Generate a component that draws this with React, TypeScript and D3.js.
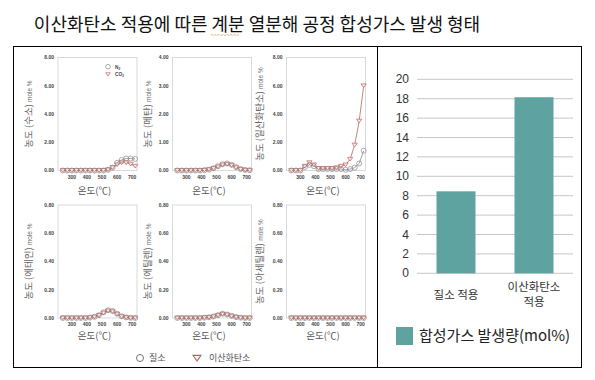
import React from 'react';
import * as d3 from 'd3';

const titleText = '이산화탄소 적용에 따른 계분 열분해 공정 합성가스 발생 형태';
const temps = [240, 270, 300, 330, 360, 390, 420, 450, 480, 510, 540, 570, 600, 630, 660, 690, 720];
const xTicks = [300, 400, 500, 600, 700];

const gasNames = ['수소', '메탄', '일산화탄소', '에테인', '에틸렌', '아세틸렌'];
const gasMax = [8, 4, 8, 0.8, 0.8, 0.8];

const h2N2 = [0, 0, 0, 0, 0, 0, 0, 0, 0, 0, 0.05, 0.2, 0.55, 0.75, 0.85, 0.85, 0.82];
const h2CO2 = [0, 0, 0, 0, 0, 0, 0, 0, 0, 0, 0.05, 0.2, 0.4, 0.55, 0.55, 0.45, 0.3];
const ch4N2 = [0, 0, 0, 0, 0, 0, 0.01, 0.03, 0.08, 0.15, 0.22, 0.25, 0.2, 0.12, 0.05, 0.02, 0.01];
const ch4CO2 = [0, 0, 0, 0, 0, 0, 0.01, 0.03, 0.07, 0.13, 0.2, 0.22, 0.18, 0.1, 0.04, 0.01, 0];
const coN2 = [0, 0, 0, 0.25, 0.4, 0.3, 0.1, 0.1, 0.1, 0.1, 0.1, 0.1, 0.05, 0.1, 0.2, 0.5, 1.4];
const coCO2 = [0, 0, 0, 0.3, 0.55, 0.4, 0.15, 0.15, 0.15, 0.15, 0.2, 0.3, 0.4, 0.8, 1.8, 3.5, 6.0];
const c2h6N2 = [0, 0, 0, 0, 0, 0, 0.003, 0.008, 0.02, 0.04, 0.055, 0.05, 0.03, 0.012, 0.004, 0.001, 0];
const c2h6CO2 = [0, 0, 0, 0, 0, 0, 0.003, 0.007, 0.018, 0.035, 0.05, 0.045, 0.027, 0.01, 0.003, 0, 0];
const c2h4N2 = [0, 0, 0, 0, 0, 0, 0.002, 0.005, 0.01, 0.02, 0.03, 0.025, 0.015, 0.006, 0.002, 0, 0];
const c2h4CO2 = [0, 0, 0, 0, 0, 0, 0.002, 0.004, 0.009, 0.018, 0.027, 0.022, 0.013, 0.005, 0.001, 0, 0];
const c2h2N2 = [0, 0, 0, 0, 0, 0, 0, 0, 0, 0, 0, 0, 0, 0, 0, 0, 0];
const c2h2CO2 = [0, 0, 0, 0, 0, 0, 0, 0, 0, 0, 0, 0, 0, 0, 0, 0, 0];

const n2Series = [h2N2, ch4N2, coN2, c2h6N2, c2h4N2, c2h2N2];
const co2Series = [h2CO2, ch4CO2, coCO2, c2h6CO2, c2h4CO2, c2h2CO2];

const legendN2 = '질소';
const legendCO2 = '이산화탄소';

const barCategories = ['질소 적용', '이산화탄소 적용'];
const barValues = [8.45, 18.15];
const barTicks = [0, 2, 4, 6, 8, 10, 12, 14, 16, 18, 20];
const barLegend = '합성가스 발생량(mol%)';

const KR = '"Noto Sans CJK KR", "Noto Sans", sans-serif';
const NUM = '"Liberation Sans", Arial, sans-serif';
const GREY = '#8a8a8a';
const RED = '#c0605c';
const TEAL = '#5ea39f';

const colLeft = [58, 172.5, 286.5];
const colYLabel = [31.5, 151, 263];
const rowTop = [57.5, 205];
const PW = 79;
const PH = 113;

function tri(cx: number, cy: number, s: number) {
  const h = s * 0.9;
  return `M${cx - s},${cy - h * 0.6}L${cx + s},${cy - h * 0.6}L${cx},${cy + h}Z`;
}

function Panel({ idx }: { idx: number }) {
  const col = idx % 3;
  const row = Math.floor(idx / 3);
  const x0 = colLeft[col];
  const y0 = rowTop[row];
  const x = d3.scaleLinear().domain([208, 732]).range([x0, x0 + PW]);
  const y = d3.scaleLinear().domain([0, gasMax[idx]]).range([y0 + PH, y0]);
  const yt = d3.range(5).map((i) => (gasMax[idx] / 4) * i);
  const line = d3
    .line<number>()
    .x((_, i) => x(temps[i]))
    .y((d) => y(d));
  const n2 = n2Series[idx];
  const co2 = co2Series[idx];
  const yLabelX = colYLabel[col];
  const cy = y0 + PH / 2;
  return (
    <g>
      <rect x={x0} y={y0} width={PW} height={PH} fill="#fff" stroke="#d0d0d0" strokeWidth={0.8} />
      {yt.map((v) => (
        <text key={v} x={x0 - 4} y={y(v) + 1.8} fontSize={5} fontWeight="bold" fill="#444" textAnchor="end" fontFamily={NUM}>
          {v.toFixed(2)}
        </text>
      ))}
      {xTicks.map((v) => (
        <text key={v} x={x(v)} y={y0 + PH + 8} fontSize={5} fontWeight="bold" fill="#444" textAnchor="middle" fontFamily={NUM}>
          {v}
        </text>
      ))}
      <text x={x0 + PW / 2 - 3} y={y0 + PH + (row === 0 ? 23 : 21)} fontSize={9.5} fill="#555" textAnchor="middle" fontFamily={KR}>
        온도(℃)
      </text>
      <text transform={`translate(${yLabelX},${cy}) rotate(-90)`} textAnchor="middle" fontFamily={KR} fill="#666" fontSize={9.5}>
        {`농도 (${gasNames[idx]}) `}
        <tspan fontSize={6.5} fontFamily={NUM}>mole %</tspan>
      </text>
      <path d={line(n2) || ''} fill="none" stroke={GREY} strokeWidth={0.8} />
      <path d={line(co2) || ''} fill="none" stroke={RED} strokeWidth={0.8} />
      {co2.map((v, i) => (
        <path key={'t' + i} d={tri(x(temps[i]), y(v) - 0.5, 2.6)} fill="#fbeaea" stroke={RED} strokeWidth={0.7} />
      ))}
      {n2.map((v, i) => (
        <circle key={'c' + i} cx={x(temps[i])} cy={y(v)} r={2.5} fill="none" stroke={GREY} strokeWidth={0.7} />
      ))}
      {idx === 0 && (
        <g>
          <circle cx={108} cy={66.7} r={2.3} fill="none" stroke={GREY} strokeWidth={0.7} />
          <text x={115} y={68.5} fontSize={4.8} fontWeight="bold" fill="#444" fontFamily={NUM}>
            N<tspan fontSize={3.2} dy={1}>2</tspan>
          </text>
          <path d={tri(108, 74, 2.3)} fill="none" stroke={RED} strokeWidth={0.7} />
          <text x={115} y={76} fontSize={4.8} fontWeight="bold" fill="#444" fontFamily={NUM}>
            CO<tspan fontSize={3.2} dy={1}>2</tspan>
          </text>
        </g>
      )}
    </g>
  );
}

function BarChart() {
  const y = d3.scaleLinear().domain([0, 20]).range([273.3, 79.3]);
  const x = d3.scaleBand<string>().domain(barCategories).range([417, 573]).paddingInner(0.5).paddingOuter(0.25);
  return (
    <g>
      {barTicks.map((t) => (
        <g key={t}>
          <line x1={417} x2={573} y1={y(t)} y2={y(t)} stroke="#b8b8b8" strokeWidth={0.8} />
          <text x={409} y={y(t) + 4} fontSize={12} fill="#333" textAnchor="end" fontFamily={NUM}>
            {t}
          </text>
        </g>
      ))}
      {barCategories.map((c, i) => (
        <rect key={c} x={x(c)} y={y(barValues[i])} width={x.bandwidth()} height={y(0) - y(barValues[i])} fill={TEAL} />
      ))}
      {barCategories.map((c) => {
        const cx = (x(c) || 0) + x.bandwidth() / 2;
        const parts = c.length > 6 ? c.split(' ') : [c];
        const base = parts.length > 1 ? 291 : 299;
        return parts.map((p, k) => (
          <text key={c + k} x={cx} y={base + k * 15} fontSize={11.5} fill="#333" textAnchor="middle" fontFamily={KR}>
            {p}
          </text>
        ));
      })}
      <rect x={396} y={327} width={17} height={18} fill={TEAL} />
      <text x={419} y={341} fontSize={15} fill="#222" fontFamily={KR}>
        {barLegend}
      </text>
    </g>
  );
}

export default function App() {
  return (
    <svg width={595} height={380} style={{ position: 'absolute', left: 0, top: 0, background: '#fff' }}>
      <rect x={0} y={0} width={595} height={380} fill="#fff" />
      <text x={257} y={31} fontSize={18} fill="#111" textAnchor="middle" fontFamily={KR}>
        {titleText}
      </text>
      <path
        d={d3.range(0, 30, 2).map((i) => `${i === 0 ? 'M' : 'L'}${211 + i},${34.5 + (i % 4 === 0 ? 0 : 1)}`).join('')}
        fill="none"
        stroke="#e0701a"
        strokeWidth={0.7}
        strokeDasharray="1 0.6"
      />
      <rect x={13.5} y={46.5} width={568} height={321} fill="none" stroke="#000" strokeWidth={1} />
      <line x1={377.5} x2={377.5} y1={46.5} y2={367.5} stroke="#000" strokeWidth={1} />
      {d3.range(6).map((i) => (
        <Panel key={i} idx={i} />
      ))}
      <circle cx={140} cy={358} r={3.5} fill="none" stroke="#666" strokeWidth={0.9} />
      <text x={149} y={361} fontSize={9} fill="#555" fontFamily={KR}>
        {legendN2}
      </text>
      <path d={tri(197, 357.5, 4)} fill="none" stroke={RED} strokeWidth={1.1} />
      <text x={209} y={361} fontSize={9} fill="#555" fontFamily={KR}>
        {legendCO2}
      </text>
      <BarChart />
    </svg>
  );
}
